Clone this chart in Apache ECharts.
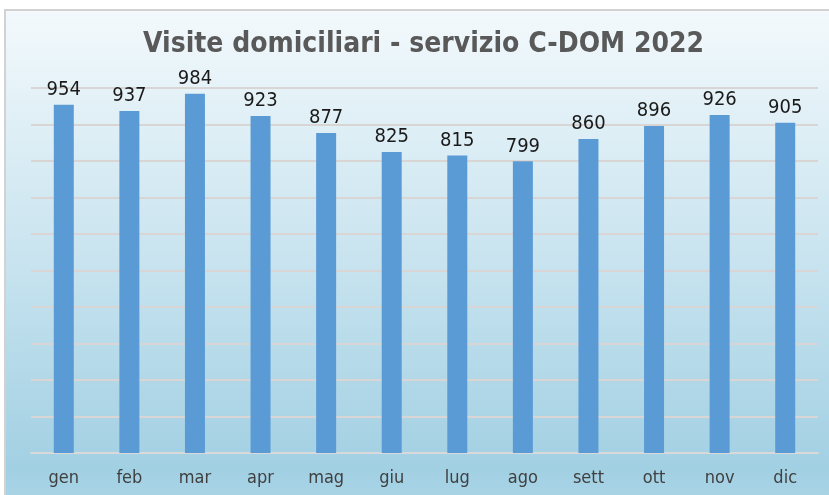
<!DOCTYPE html>
<html>
<head>
<meta charset="utf-8">
<script src="https://cdn.jsdelivr.net/npm/echarts@6/dist/echarts.min.js"></script>
<style>
  html, body { margin: 0; padding: 0; background: #fff; }
  #chart { width: 829px; height: 495px; }
</style>
</head>
<body>
<div id="chart"></div>
<script>
// dati
var mesi = ['gen', 'feb', 'mar', 'apr', 'mag', 'giu', 'lug', 'ago', 'sett', 'ott', 'nov', 'dic'];
var visite = [954, 937, 984, 923, 877, 825, 815, 799, 860, 896, 926, 905];
var titolo = 'Visite domiciliari - servizio C-DOM 2022';

var font = 'DejaVu Sans Condensed, Liberation Sans Narrow, sans-serif';
var chart = echarts.init(document.getElementById('chart'));

var option = {
    backgroundColor: '#ffffff',
    animation: false,
    graphic: [{
        type: 'rect',
        z: -10,
        shape: { x: 5, y: 10, width: 860, height: 520 },
        style: {
            fill: new echarts.graphic.LinearGradient(0, 0, 0, 1, [
                { offset: 0, color: '#f3f9fc' },
                { offset: 0.45, color: '#cbe5f0' },
                { offset: 0.88, color: '#a2d0e3' },
                { offset: 1, color: '#aed7e8' }
            ]),
            stroke: '#d2d2d2',
            lineWidth: 2
        }
    }],
    title: {
        text: titolo,
        left: 143,
        top: 31,
        padding: 0,
        textStyle: {
            fontFamily: font,
            fontSize: 28,
            fontWeight: 'bold',
            color: '#595959'
        }
    },
    grid: { left: 31, right: 11, top: 88, bottom: 42 },
    xAxis: {
        type: 'category',
        data: mesi,
        axisLine: { show: true, lineStyle: { color: '#d9d9d9', width: 2 } },
        axisTick: { show: false },
        axisLabel: {
            margin: 16,
            fontFamily: font,
            fontSize: 18,
            color: '#404040'
        }
    },
    yAxis: {
        type: 'value',
        min: 0,
        max: 1000,
        interval: 100,
        axisLabel: { show: false },
        axisLine: { show: false },
        axisTick: { show: false },
        splitLine: { lineStyle: { color: '#d9d5d5', width: 2 } }
    },
    series: [{
        type: 'bar',
        data: visite,
        barWidth: 20,
        itemStyle: { color: '#5b9bd5' },
        label: {
            show: true,
            position: 'top',
            distance: 5,
            fontFamily: font,
            fontSize: 20,
            color: '#1a1a1a'
        }
    }]
};

chart.setOption(option);
</script>
</body>
</html>
